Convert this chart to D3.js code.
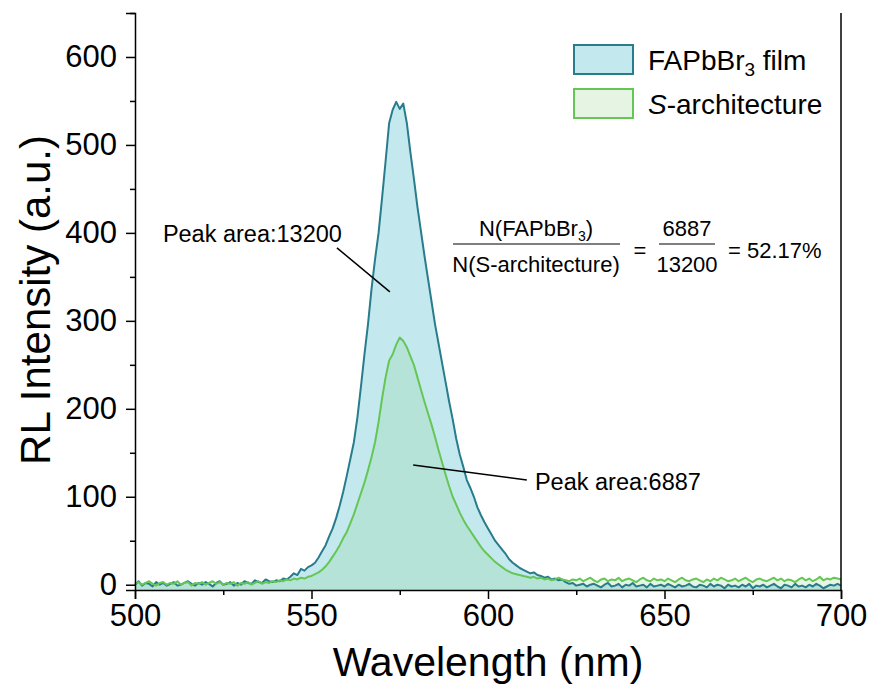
<!DOCTYPE html>
<html>
<head>
<meta charset="utf-8">
<script src="https://cdn.jsdelivr.net/npm/d3@7"></script>
<style>
  body { margin: 0; background: #fff; }
  svg { font-family: "Liberation Sans", Arial, sans-serif; }
</style>
</head>
<body>
<svg id="chart"></svg>
<script>
const width = 872;
const height = 695;
const margin = { top: 13, right: 31, bottom: 105, left: 135 };

// wavelength grid (nm), 1 nm steps
const wavelengths = d3.range(500, 701, 1);

// FAPbBr3 film, 500..700 nm
const filmValues = [
  0, 4, -1, 2, 1, -2, 3, 0, 2, -1,
  1, 3, -1, 0, 2, 4, 1, -1, 2, 0,
  3, 1, -2, 2, 4, 0, 1, 3, -1, 2,
  0, 4, 2, 1, 5, 3, 2, 6, 4, 3,
  5, 4, 7, 6, 9, 13, 11, 18, 16, 20,
  22, 25, 31, 38, 45, 55, 64, 76, 90, 106,
  124, 143, 162, 190, 225, 262, 296, 336, 370, 400,
  440, 482, 525, 540, 549, 541, 547, 525, 492, 462,
  430, 402, 374, 348, 322, 296, 274, 252, 230, 208,
  188, 166, 148, 134, 119, 110, 100, 88, 79, 71,
  64, 57, 50, 45, 40, 35, 29, 25, 22, 19,
  17, 15, 13, 14, 11, 10, 8, 9, 6, 7,
  5, 6, 3, 1, 2, -1, 0, 1, -2, 0,
  1, -1, -3, 0, 2, -2, -1, 1, -3, 0,
  -1, 2, -2, -1, 0, -3, 1, -2, -1, 0,
  -2, 1, -1, -3, 0, -2, -1, 1, -2, -3,
  0, -1, -3, 1, -2, 0, -1, -4, 0, -2,
  -1, -3, 0, -2, 1, -4, -1, -2, 0, -3,
  -1, 1, -2, -4, 0, -1, -3, 1, -2, -1,
  -3, 0, -2, 1, -1, -4, -2, 0, -1, 1,
  -1
];

// S-architecture, 500..700 nm
const sArchValues = [
  1, 3, 0, 2, 4, 1, -1, 2, 3, 0,
  2, 1, 4, 0, 2, 3, -1, 2, 1, 3,
  0, 2, 4, 1, 3, 0, 2, 1, 3, -1,
  2, 1, 3, 0, 2, 4, 1, 3, 2, 4,
  3, 5, 4, 6, 5, 7, 6, 8, 7, 9,
  10, 12, 14, 17, 21, 26, 32, 38, 45, 53,
  60, 70, 80, 92, 104, 116, 130, 145, 162, 185,
  212, 236, 255, 262, 273, 281, 277, 270, 260, 250,
  236, 222, 208, 195, 182, 168, 153, 139, 125, 112,
  100, 91, 82, 74, 67, 61, 55, 49, 43, 38,
  34, 30, 26, 23, 20, 17, 15, 13, 12, 11,
  10, 9, 8, 9, 7, 8, 6, 7, 5, 6,
  8, 6, 5, 4, 6, 5, 7, 4, 6, 8,
  5, 3, 6, 7, 4, 6, 5, 8, 4, 6,
  7, 5, 3, 6, 8, 5, 4, 7, 5, 6,
  4, 7, 5, 3, 6, 8, 5, 4, 6, 7,
  5, 3, 6, 4, 7, 5, 8, 6, 4, 5,
  7, 4, 6, 8, 5, 3, 6, 7, 5, 4,
  6, 8, 5, 7, 4, 6, 5, 3, 6, 8,
  5, 7, 4, 6, 9, 5, 7, 6, 8, 7,
  6
];

const xTicks = [500, 550, 600, 650, 700];
const xMinorTicks = [525, 575, 625, 675];
const yTicks = [0, 100, 200, 300, 400, 500, 600];
const yMinorTicks = [50, 150, 250, 350, 450, 550, 650];

const series = [
  { name: "film", values: filmValues, stroke: "#287c8c", fill: "#c3e9ee", opacity: 1 },
  { name: "sarch", values: sArchValues, stroke: "#66c655", fill: "#7cc86e", opacity: 0.18 }
];

const svg = d3.select("#chart")
  .attr("width", width)
  .attr("height", height);

const x = d3.scaleLinear()
  .domain([500, 700])
  .range([margin.left, width - margin.right]);

const y = d3.scaleLinear()
  .domain([-6, 650])
  .range([height - margin.bottom, margin.top]);

// Areas + lines
series.forEach(s => {
  const pts = wavelengths.map((w, i) => [w, s.values[i]]);
  svg.append("path")
    .datum(pts)
    .attr("fill", s.fill)
    .attr("fill-opacity", s.opacity)
    .attr("d", d3.area().x(d => x(d[0])).y0(y(-6)).y1(d => y(d[1])));
});
series.forEach(s => {
  const pts = wavelengths.map((w, i) => [w, s.values[i]]);
  svg.append("path")
    .datum(pts)
    .attr("fill", "none")
    .attr("stroke", s.stroke)
    .attr("stroke-width", 2)
    .attr("stroke-linejoin", "round")
    .attr("d", d3.line().x(d => x(d[0])).y(d => y(d[1])));
});

// Axes
svg.append("g")
  .attr("transform", `translate(0, ${y(-6)})`)
  .call(d3.axisBottom(x).tickValues(xTicks).tickSize(9).tickPadding(5).tickFormat(d3.format("d")));
svg.append("g")
  .attr("transform", `translate(0, ${y(-6)})`)
  .call(d3.axisBottom(x).tickValues(xMinorTicks).tickSize(5).tickFormat(""))
  .select(".domain").remove();

svg.append("g")
  .attr("transform", `translate(${x(500)}, 0)`)
  .call(d3.axisLeft(y).tickValues(yTicks).tickSize(9).tickPadding(9).tickFormat(d3.format("d")));
svg.append("g")
  .attr("transform", `translate(${x(500)}, 0)`)
  .call(d3.axisLeft(y).tickValues(yMinorTicks).tickSize(5).tickFormat(""))
  .select(".domain").remove();

// right frame line
svg.append("line")
  .attr("x1", x(700)).attr("x2", x(700))
  .attr("y1", y(650)).attr("y2", y(-6))
  .attr("stroke", "#000")
  .attr("stroke-width", 1.5);

svg.selectAll(".domain").attr("stroke-width", 1.5);
svg.selectAll(".tick line").attr("stroke-width", 1.5);
svg.selectAll(".tick text")
  .attr("font-family", "Liberation Sans, Arial, sans-serif")
  .attr("font-size", 31)
  .attr("fill", "#000");

// Axis titles
svg.append("text")
  .attr("x", (x(500) + x(700)) / 2)
  .attr("y", 676)
  .attr("text-anchor", "middle")
  .attr("font-size", 41)
  .text("Wavelength (nm)");

svg.append("text")
  .attr("transform", `translate(50, 300) rotate(-90)`)
  .attr("text-anchor", "middle")
  .attr("font-size", 42)
  .text("RL Intensity (a.u.)");

// Legend
const legend = svg.append("g");
const legendRows = [
  { y: 45, stroke: "#287c8c", fill: "#c3e9ee" },
  { y: 89, stroke: "#66c655", fill: "#e6f5e3" }
];
legendRows.forEach(r => {
  legend.append("rect")
    .attr("x", 574).attr("y", r.y)
    .attr("width", 59).attr("height", 29)
    .attr("fill", r.fill)
    .attr("stroke", r.stroke)
    .attr("stroke-width", 2);
});
const l1 = legend.append("text").attr("x", 648).attr("y", 70).attr("font-size", 28);
l1.append("tspan").text("FAPbBr");
l1.append("tspan").attr("font-size", 19).attr("dy", 6).text("3");
l1.append("tspan").attr("dy", -6).text(" film");
const l2 = legend.append("text").attr("x", 648).attr("y", 114).attr("font-size", 28);
l2.append("tspan").attr("font-style", "italic").text("S");
l2.append("tspan").text("-architecture");

// Peak area annotations
svg.append("line")
  .attr("x1", x(557.2)).attr("y1", y(383))
  .attr("x2", x(572.2)).attr("y2", y(333))
  .attr("stroke", "#000").attr("stroke-width", 1.5);
svg.append("text")
  .attr("x", x(507.9)).attr("y", y(390))
  .attr("font-size", 23.5)
  .text("Peak area:13200");

svg.append("line")
  .attr("x1", x(578.8)).attr("y1", y(136))
  .attr("x2", x(611)).attr("y2", y(119))
  .attr("stroke", "#000").attr("stroke-width", 1.5);
svg.append("text")
  .attr("x", x(613.3)).attr("y", y(108))
  .attr("font-size", 23.5)
  .text("Peak area:6887");

// Ratio formula
const f = svg.append("g").attr("font-size", 22);
const num = f.append("text").attr("x", 536).attr("y", 236).attr("text-anchor", "middle");
num.append("tspan").text("N(FAPbBr");
num.append("tspan").attr("font-size", 14).attr("dy", 5).text("3");
num.append("tspan").attr("dy", -5).text(")");
f.append("line").attr("x1", 453).attr("x2", 620).attr("y1", 244).attr("y2", 244)
  .attr("stroke", "#000").attr("stroke-width", 1.2);
f.append("text").attr("x", 536).attr("y", 272).attr("text-anchor", "middle").text("N(S-architecture)");
f.append("text").attr("x", 640).attr("y", 258).attr("text-anchor", "middle").text("=");
f.append("text").attr("x", 687).attr("y", 236).attr("text-anchor", "middle").text("6887");
f.append("line").attr("x1", 659).attr("x2", 715).attr("y1", 244).attr("y2", 244)
  .attr("stroke", "#000").attr("stroke-width", 1.2);
f.append("text").attr("x", 687).attr("y", 272).attr("text-anchor", "middle").text("13200");
f.append("text").attr("x", 728).attr("y", 258).text("= 52.17%");
</script>
</body>
</html>
